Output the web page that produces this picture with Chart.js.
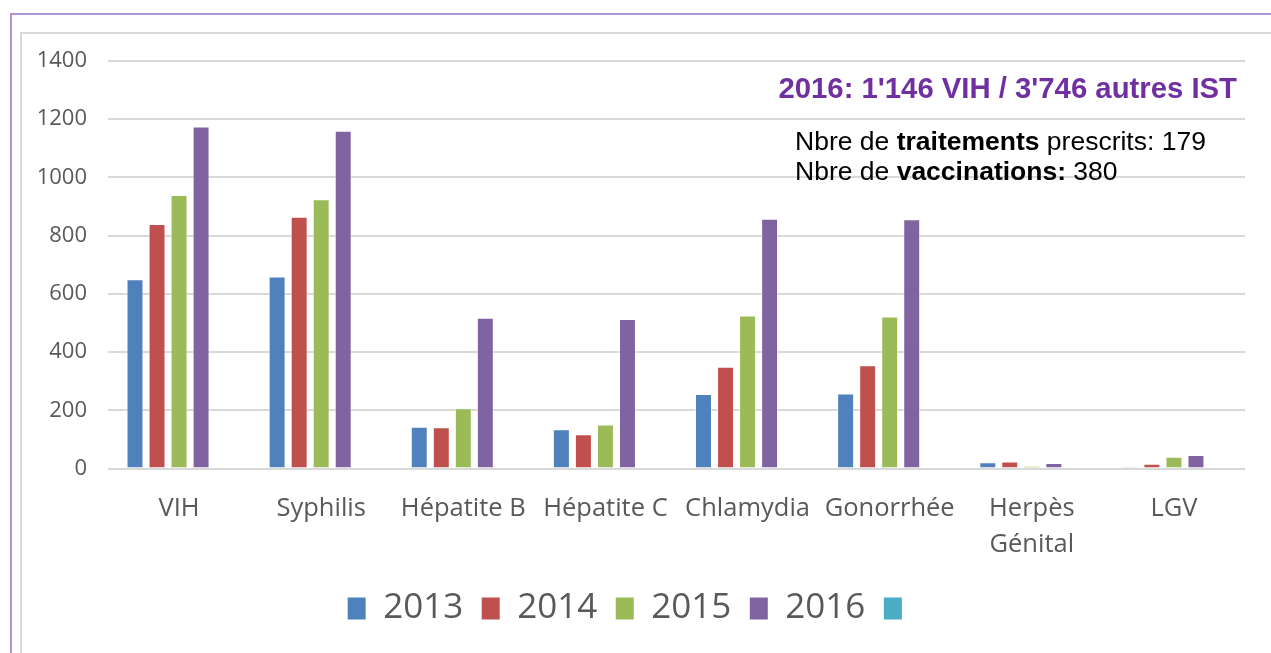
<!DOCTYPE html>
<html>
<head>
<meta charset="utf-8">
<script src="https://cdn.jsdelivr.net/npm/chart.js@4"></script>
<style>
  body { margin: 0; background: #fff; width: 1271px; height: 653px; overflow: hidden; position: relative; }
  #frame { position: absolute; left: 10px; top: 13px; width: 1300px; height: 700px; border-left: 2px solid #b294d0; border-top: 2px solid #b294d0; }
  #box { position: absolute; left: 20px; top: 32px; width: 1300px; height: 700px; border-left: 2px solid #d9d9d9; border-top: 2px solid #d9d9d9; }
  #wrap { position: absolute; left: 22px; top: 34px; width: 1249px; height: 619px; }
</style>
</head>
<body>
<div id="frame"></div>
<div id="box"></div>
<div id="wrap"><canvas id="chart"></canvas></div>
<script>
const categories = ['VIH', 'Syphilis', 'Hépatite B', 'Hépatite C', 'Chlamydia', 'Gonorrhée', ['Herpès', 'Génital'], 'LGV'];
const years = ['2013', '2014', '2015', '2016', ''];
const values2013 = [650, 660, 144, 135, 256, 258, 22, 2];
const values2014 = [840, 865, 142, 118, 350, 355, 24, 17];
const values2015 = [940, 925, 207, 151, 526, 522, 9, 41];
const values2016 = [1175, 1160, 518, 514, 858, 856, 19, 47];
const valuesEmpty = [null, null, null, null, null, null, null, null];
const colors = ['#4f81bd', '#c0504d', '#9bbb59', '#8064a2', '#4bacc6'];
const yTicks = [0, 200, 400, 600, 800, 1000, 1200, 1400];

const title = "2016: 1'146 VIH / 3'746 autres IST";
const noteLines = [
  [['Nbre de ', false], ['traitements', true], [' prescrits: 179', false]],
  [['Nbre de ', false], ['vaccinations:', true], [' 380', false]]
];

const series = [values2013, values2014, values2015, values2016, valuesEmpty];

// text boxes placed on top of the chart
const notesPlugin = {
  id: 'notes',
  afterDraw(chart) {
    const ctx = chart.ctx;
    ctx.save();
    ctx.fillStyle = '#7030a0';
    ctx.font = 'bold 29.3px "Liberation Sans", Arial, sans-serif';
    ctx.textAlign = 'right';
    ctx.textBaseline = 'middle';
    ctx.fillText(title, 1215, 56);
    ctx.textAlign = 'left';
    ctx.fillStyle = '#000';
    noteLines.forEach((parts, i) => {
      let x = 773;
      const y = 109 + i * 30;
      parts.forEach(([txt, bold]) => {
        ctx.font = (bold ? 'bold ' : '') + '26.5px "Liberation Sans", Arial, sans-serif';
        ctx.fillText(txt, x, y);
        x += ctx.measureText(txt).width;
      });
    });
    ctx.restore();
  }
};

new Chart(document.getElementById('chart'), {
  type: 'bar',
  data: {
    labels: categories,
    datasets: series.map((vals, i) => ({
      label: years[i],
      data: vals,
      backgroundColor: colors[i],
      borderColor: 'rgba(255,255,255,0.5)',
      borderWidth: 1,
      barPercentage: 0.77,
      categoryPercentage: 0.775
    }))
  },
  options: {
    responsive: true,
    maintainAspectRatio: false,
    animation: false,
    layout: { padding: { top: 0, right: 26, left: 0, bottom: 17 } },
    scales: {
      x: {
        grid: { display: false, drawTicks: false },
        border: { display: false },
        afterFit: axis => { axis.height -= 12.5; },
        ticks: { color: '#595959', font: { family: 'Open Sans', size: 25.5, lineHeight: 1.42 }, padding: 22, maxRotation: 0 }
      },
      y: {
        min: 0,
        max: 1400,
        afterBuildTicks: axis => { axis.ticks = yTicks.map(v => ({ value: v })); },
        afterFit: axis => { axis.width = 86; axis.paddingTop = 27; },
        grid: { color: '#d9d9d9', lineWidth: 2, drawTicks: false },
        border: { display: false },
        ticks: { color: '#595959', font: { family: 'Open Sans', size: 22 }, padding: 21, callback: v => String(v) }
      }
    },
    plugins: {
      legend: {
        position: 'bottom',
        labels: {
          color: '#595959',
          font: { family: 'Open Sans', size: 35 },
          boxWidth: 18,
          boxHeight: 22,
          padding: 18.5,
          generateLabels(chart) {
            const items = Chart.defaults.plugins.legend.labels.generateLabels(chart);
            items.forEach(it => { it.lineWidth = 0; it.strokeStyle = it.fillStyle; });
            return items;
          }
        },
        onClick: () => {}
      },
      tooltip: { enabled: false }
    }
  },
  plugins: [notesPlugin]
});
</script>
</body>
</html>
